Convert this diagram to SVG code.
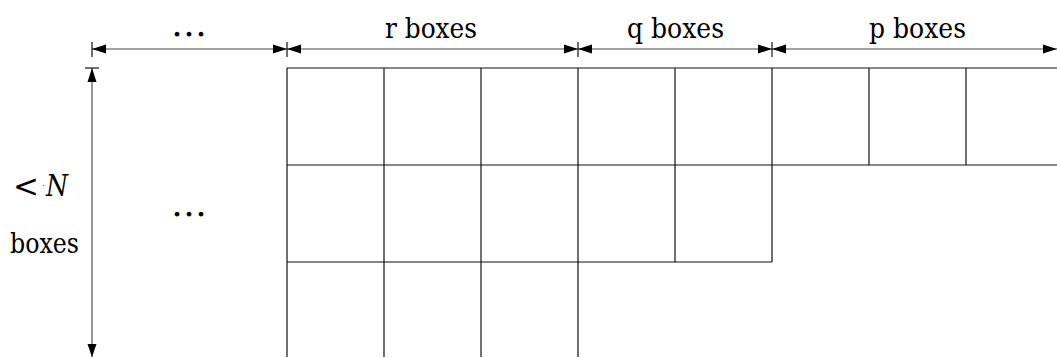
<svg xmlns="http://www.w3.org/2000/svg" width="1057" height="358" viewBox="0 0 1057 358">
<style>
.grid line{stroke:#111;stroke-width:1.2}
.dim line{stroke:#444;stroke-width:1.1}
.dim .tick{stroke:#111;stroke-width:1.2}
.ah{fill:#000}
</style>
<rect width="1057" height="358" fill="#fff"/>
<g id="grid" class="grid">
<line x1="287" y1="68" x2="1057" y2="68"/>
<line x1="287" y1="165" x2="1057" y2="165"/>
<line x1="287" y1="262" x2="772" y2="262"/>
<line x1="287" y1="68" x2="287" y2="357"/>
<line x1="384" y1="68" x2="384" y2="357"/>
<line x1="481" y1="68" x2="481" y2="357"/>
<line x1="578" y1="68" x2="578" y2="357"/>
<line x1="675" y1="68" x2="675" y2="262"/>
<line x1="772" y1="68" x2="772" y2="262"/>
<line x1="869" y1="68" x2="869" y2="165"/>
<line x1="966" y1="68" x2="966" y2="165"/>
</g>
<g id="connectors" class="dim">
<line x1="92" y1="49" x2="1057" y2="49"/>
<line class="tick" x1="92" y1="42" x2="92" y2="57"/>
<line class="tick" x1="287" y1="42" x2="287" y2="57"/>
<line class="tick" x1="578" y1="42" x2="578" y2="57"/>
<line class="tick" x1="772" y1="42" x2="772" y2="57"/>
<path class="ah" d="M92 49 L106 44.5 L106 53.5 Z"/>
<path class="ah" d="M287 49 L273 44.5 L273 53.5 Z"/>
<path class="ah" d="M287 49 L301 44.5 L301 53.5 Z"/>
<path class="ah" d="M578 49 L564 44.5 L564 53.5 Z"/>
<path class="ah" d="M578 49 L592 44.5 L592 53.5 Z"/>
<path class="ah" d="M772 49 L758 44.5 L758 53.5 Z"/>
<path class="ah" d="M772 49 L786 44.5 L786 53.5 Z"/>
<path class="ah" d="M1057 49 L1043 44.5 L1043 53.5 Z"/>
<line x1="92" y1="68" x2="92" y2="357"/>
<line class="tick" x1="85" y1="68" x2="99" y2="68"/>
<path class="ah" d="M92 68 L87.5 82 L96.5 82 Z"/>
<path class="ah" d="M92 357 L87.5 344 L96.5 344 Z"/>
</g>
<g id="labels" fill="#000" font-family="DejaVu Serif, serif">
<text x="189" y="36" text-anchor="middle" font-size="36">…</text>
<text x="385" y="38" font-size="28" textLength="92" lengthAdjust="spacingAndGlyphs">r boxes</text>
<text x="627" y="38" font-size="28" textLength="97" lengthAdjust="spacingAndGlyphs">q boxes</text>
<text x="869" y="38" font-size="28" textLength="97" lengthAdjust="spacingAndGlyphs">p boxes</text>
<text x="13" y="197" font-size="31">&lt;</text>
<text x="42" y="188" font-size="8">·</text>
<text x="46" y="196" font-style="italic" font-size="29" textLength="22" lengthAdjust="spacingAndGlyphs">N</text>
<text x="10" y="253" font-size="28" textLength="69" lengthAdjust="spacingAndGlyphs">boxes</text>
<text x="189" y="216" text-anchor="middle" font-size="36">…</text>
</g>
</svg>
